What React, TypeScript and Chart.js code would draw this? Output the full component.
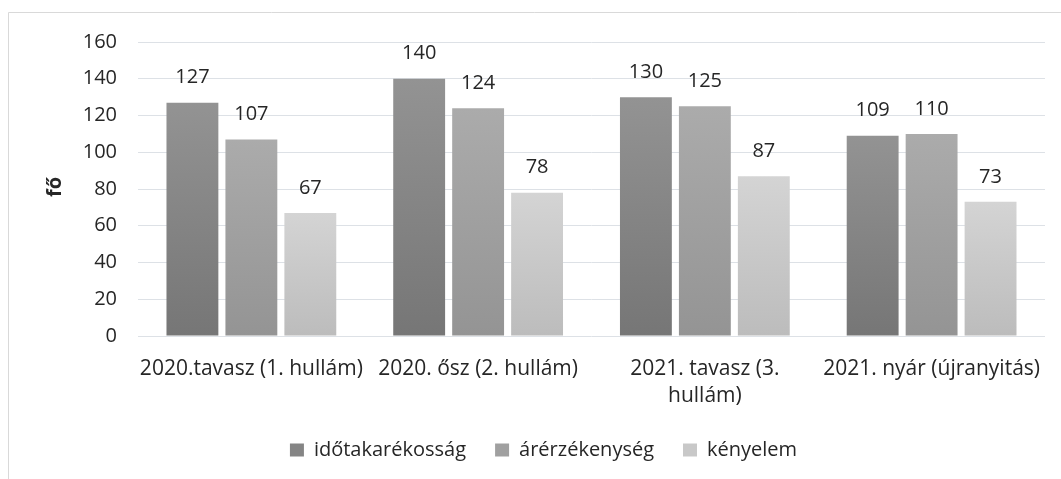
import React, { useEffect, useRef } from "react";
import { Chart, registerables } from "chart.js";

Chart.register(...registerables);

const categories: (string | string[])[] = [
  "2020.tavasz (1. hullám)",
  "2020. ősz (2. hullám)",
  ["2021. tavasz (3.", "hullám)"],
  "2021. nyár (újranyitás)",
];
const seriesNames = ["időtakarékosság", "árérzékenység", "kényelem"];
const idotakarekossag = [127, 140, 130, 109];
const arerzekenyseg = [107, 124, 125, 110];
const kenyelem = [67, 78, 87, 73];
const yTicks = [0, 20, 40, 60, 80, 100, 120, 140, 160];
const yTitle = "fő";

const gradStops: [string, string][] = [
  ["#939393", "#767676"],
  ["#ababab", "#949494"],
  ["#d4d4d4", "#bcbcbc"],
];
const legendColors = ["#858585", "#a0a0a0", "#c8c8c8"];

const FONT = "'Open Sans', 'Noto Sans', sans-serif";
const TEXT = "#262626";

export default function App() {
  const ref = useRef<HTMLCanvasElement>(null);
  useEffect(() => {
    const canvas = ref.current!;
    const makeBg = (i: number) => (ctx: any) => {
      const chart = ctx.chart;
      const ys = chart.scales?.y;
      if (!ys || ctx.type !== "data") return legendColors[i];
      const top = ys.getPixelForValue(ctx.raw);
      const base = ys.getPixelForValue(0);
      if (!isFinite(top) || !isFinite(base) || top === base) return legendColors[i];
      const g = chart.ctx.createLinearGradient(0, top, 0, base);
      g.addColorStop(0, gradStops[i][0]);
      g.addColorStop(1, gradStops[i][1]);
      return g;
    };
    const borderPlugin = {
      id: "frame",
      beforeDraw(chart: any) {
        const c = chart.ctx;
        c.save();
        c.fillStyle = "#ffffff";
        c.fillRect(0, 0, chart.width, chart.height);
        c.strokeStyle = "#d9d9d9";
        c.lineWidth = 1;
        c.beginPath();
        c.moveTo(8.5, chart.height);
        c.lineTo(8.5, 12.5);
        c.lineTo(chart.width, 12.5);
        c.stroke();
        c.translate(55, 187);
        c.rotate(-Math.PI / 2);
        c.font = `bold 20px ${FONT}`;
        c.fillStyle = TEXT;
        c.textAlign = "center";
        c.textBaseline = "middle";
        c.fillText(yTitle, 0, 0);
        c.restore();
      },
    };
    const labelPlugin = {
      id: "vals",
      afterDatasetsDraw(chart: any) {
        const c = chart.ctx;
        c.save();
        c.font = `20px ${FONT}`;
        c.fillStyle = TEXT;
        c.textAlign = "center";
        c.textBaseline = "middle";
        chart.data.datasets.forEach((ds: any, di: number) => {
          const meta = chart.getDatasetMeta(di);
          meta.data.forEach((bar: any, i: number) => {
            c.fillText(String(ds.data[i]), bar.x, bar.y - 25);
          });
        });
        c.restore();
      },
    };
    const chart = new Chart(canvas, {
      type: "bar",
      data: {
        labels: categories,
        datasets: [idotakarekossag, arerzekenyseg, kenyelem].map((d, i) => ({
          label: seriesNames[i],
          data: d,
          backgroundColor: makeBg(i),
          borderWidth: 0,
          categoryPercentage: 0.78,
          barPercentage: 0.88,
        })),
      },
      options: {
        responsive: false,
        animation: false,
        layout: { padding: { top: 42, right: 16, left: 42, bottom: 9 } },
        plugins: {
          tooltip: { enabled: false },
          legend: {
            position: "bottom",
            labels: {
              boxWidth: 14,
              boxHeight: 13,
              padding: 29,
              color: TEXT,
              font: { family: FONT, size: 20 },
              generateLabels: () =>
                seriesNames.map((n, i) => ({
                  text: n,
                  fillStyle: legendColors[i],
                  strokeStyle: legendColors[i],
                  lineWidth: 0,
                  hidden: false,
                  datasetIndex: i,
                  fontColor: TEXT,
                })),
            },
          },
        },
        scales: {
          x: {
            grid: { display: false, drawTicks: false },
            border: { display: false },
            ticks: {
              color: TEXT,
              font: { family: FONT, size: 21, lineHeight: 1.29 },
              padding: 19,
              maxRotation: 0,
              autoSkip: false,
            },
            afterFit(scale: any) {
              scale.height = 75;
            },
          },
          y: {
            min: 0,
            max: 160,
            afterBuildTicks(scale: any) {
              scale.ticks = yTicks.map((v) => ({ value: v }));
            },
            grid: { color: "#dde1e6", lineWidth: 1, drawTicks: false },
            border: { display: false },
            ticks: {
              color: TEXT,
              font: { family: FONT, size: 20 },
              padding: 21,
            },
            afterFit(scale: any) {
              scale.width = 96;
            },
          },
        },
      },
      plugins: [borderPlugin, labelPlugin],
    });
    return () => chart.destroy();
  }, []);
  return (
    <div style={{ position: "absolute", left: 0, top: 0, width: 1061, height: 479 }}>
      <canvas ref={ref} width={1061} height={479} />
    </div>
  );
}
